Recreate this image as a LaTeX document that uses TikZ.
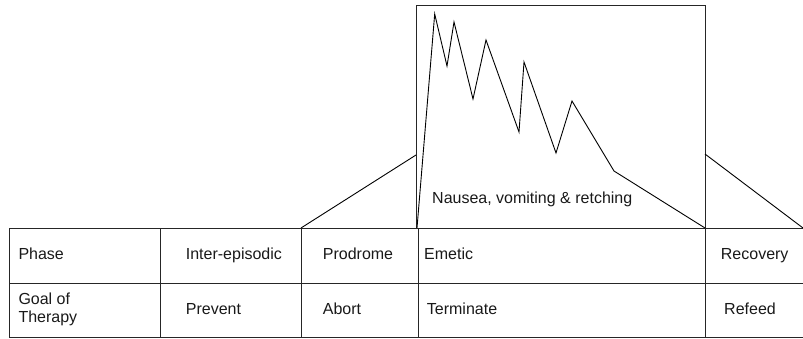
\documentclass[tikz,border=0pt]{standalone}
\usepackage{fontspec}
\setmainfont{Liberation Sans}
\begin{document}
\begin{tikzpicture}[x=1pt,y=-1pt,
  rule/.style={draw=black!85,line width=0.9pt},
  trace/.style={draw=black,line width=0.9pt,line join=miter},
  cell/.style={anchor=base west,inner sep=0pt,font=\fontsize{16}{18.4}\selectfont,text=black!90,align=left}]
\useasboundingbox (0,0) rectangle (803,338);

% table grid
\coordinate (tl) at (9,228);
\coordinate (tr) at (803,228);
\coordinate (ml) at (9,283);
\coordinate (mr) at (803,283);
\coordinate (bl) at (9,337);
\coordinate (br) at (803,337);
\draw[rule] (tr) -- (tl) -- (bl) -- (br);
\draw[rule] (ml) -- (mr);
\foreach \cx/\nm in {160/c1,301/c2,418/c3,705/c4}{
  \coordinate (\nm t) at (\cx,228);
  \coordinate (\nm b) at (\cx,337);
  \draw[rule] (\nm t) -- (\nm b);
}

% emetic phase zoom box
\coordinate (bxbl) at (416,228);
\coordinate (bxtl) at (416,5);
\coordinate (bxtr) at (705,5);
\coordinate (bxbr) at (705,228);
\draw[rule] (bxbl) -- (bxtl) -- (bxtr) -- (bxbr);

% projection lines
\coordinate (pl) at (416,155);
\coordinate (pr) at (705,154);
\draw[trace] (c2t) -- (pl);
\draw[trace] (pr) -- (tr);

% nausea / vomiting trace
\draw[trace] (417,228) -- (434.7,14) -- (447,66) -- (454,22) -- (473,99)
  -- (486,40) -- (519,132) -- (524,62) -- (556,153) -- (572,101)
  -- (614,171) -- (bxbr);

\node[cell] (nvr) at (432,203.5) {Nausea, vomiting \& retching};

% row 1
\node[cell] (phase) at (18.3,259.3) {Phase};
\node[cell] (inter) at (185.7,259.3) {Inter-episodic};
\node[cell] (prod) at (322.7,259.3) {Prodrome};
\node[cell] (emet) at (424,259.3) {Emetic};
\node[cell] (recov) at (720.7,259.3) {Recovery};

% row 2 (a multi-line node sits on its last baseline)
\node[cell] (goal) at (18.3,322.7) {Goal of\\Therapy};
\node[cell] (prev) at (185.7,314) {Prevent};
\node[cell] (abort) at (322.7,314) {Abort};
\node[cell] (term) at (426.7,314) {Terminate};
\node[cell] (refeed) at (724,314) {Refeed};
\end{tikzpicture}
\end{document}
